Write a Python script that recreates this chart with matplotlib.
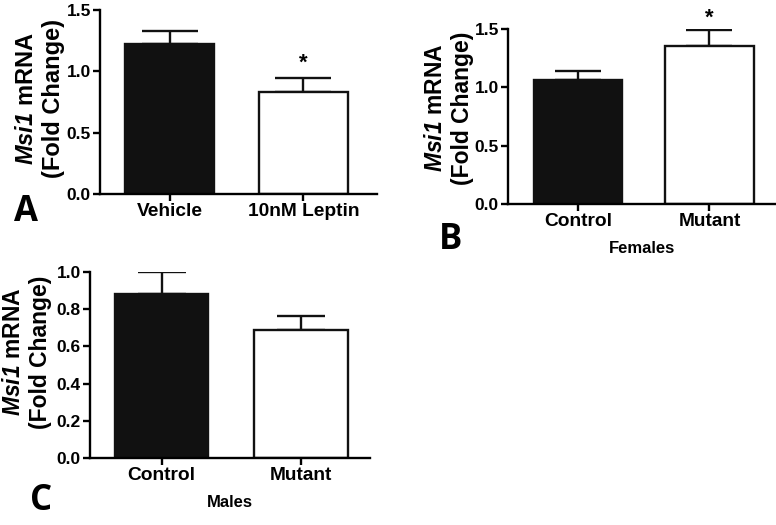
import matplotlib
matplotlib.use("Agg")
import matplotlib.pyplot as plt

plt.rcParams["font.family"] = ["Liberation Sans", "DejaVu Sans"]
plt.rcParams["font.weight"] = "bold"
plt.rcParams["mathtext.fontset"] = "custom"
plt.rcParams["mathtext.rm"] = "Liberation Sans:bold"
plt.rcParams["mathtext.bfit"] = "Liberation Sans:bold:italic"
plt.rcParams["mathtext.bf"] = "Liberation Sans:bold"

# panel A: leptin treatment
a_labels = ["Vehicle", "10nM Leptin"]
a_means = [1.22, 0.83]
a_sem = [0.11, 0.115]
# panel B: females
b_labels = ["Control", "Mutant"]
b_means = [1.06, 1.355]
b_sem = [0.08, 0.14]
# panel C: males
c_labels = ["Control", "Mutant"]
c_means = [0.88, 0.69]
c_sem = [0.12, 0.075]

YLABEL = "$\\mathbfit{Msi1}$ mRNA\n(Fold Change)"

W, H = 776, 525
fig = plt.figure(figsize=(W / 100, H / 100), dpi=100)


def px_axes(x0, y0, x1, y1):
    return fig.add_axes([x0 / W, 1 - y1 / H, (x1 - x0) / W, (y1 - y0) / H])


def panel(ax, labels, means, sem, ylim, yticks, xlim, cap, xlabel=None, star=None, star_off=6):
    lw = 1.7
    ax.bar([0, 1], means, width=0.67, color=["#111111", "white"],
           edgecolor="#111111", linewidth=lw, zorder=2)
    for i in range(2):
        ax.errorbar(i, means[i], yerr=[[0], [sem[i]]], fmt="none", ecolor="#111111",
                    elinewidth=lw, capsize=cap, capthick=lw, zorder=1)
    ax.set_xlim(*xlim)
    ax.set_ylim(*ylim)
    ax.set_yticks(yticks)
    ax.set_yticklabels([f"{v:.1f}" for v in yticks])
    ax.set_xticks([0, 1])
    ax.set_xticklabels(labels)
    for s in ["top", "right"]:
        ax.spines[s].set_visible(False)
    for s in ["left", "bottom"]:
        ax.spines[s].set_linewidth(lw)
    ax.tick_params(axis="both", width=lw, length=5, pad=1.5)
    ax.tick_params(axis="y", labelsize=12.5)
    ax.tick_params(axis="x", labelsize=13.8)
    if xlabel:
        ax.set_xlabel(xlabel, fontsize=12, fontweight="bold", labelpad=8)
    if star is not None:
        ax.annotate("*", (star, means[star] + sem[star]), xytext=(0, star_off),
                    textcoords="offset points", ha="center", va="baseline",
                    fontsize=16, fontweight="bold")


axA = px_axes(100, 10, 377, 194)
panel(axA, a_labels, a_means, a_sem, (0, 1.5), [0, 0.5, 1.0, 1.5],
      (-0.519, 1.549), 20, star=1, star_off=7)

axB = px_axes(508, 29, 775, 204)
panel(axB, b_labels, b_means, b_sem, (0, 1.5), [0, 0.5, 1.0, 1.5],
      (-0.532, 1.498), 16.5, xlabel="Females", star=1, star_off=4.5)

axC = px_axes(90, 272, 370, 458)
panel(axC, c_labels, c_means, c_sem, (0, 1.0), [0, 0.2, 0.4, 0.6, 0.8, 1.0],
      (-0.513, 1.495), 17.5, xlabel="Males")

# y labels placed by hand (pixel centres)
for x, y, size in [(40, 99, 17), (449, 108, 16.5), (27, 352, 16.5)]:
    fig.text(x / W, 1 - y / H, YLABEL, rotation=90, ha="center", va="center",
             fontsize=size, fontweight="bold", linespacing=1.2, multialignment="center")

for letter, x, y in [("A", 26, 212), ("B", 451, 240), ("C", 41, 501)]:
    fig.text(x / W, 1 - y / H, letter, fontsize=25, fontweight="bold",
             family="Open Sans", ha="center", va="center")

fig.savefig("out.png", dpi=100)
